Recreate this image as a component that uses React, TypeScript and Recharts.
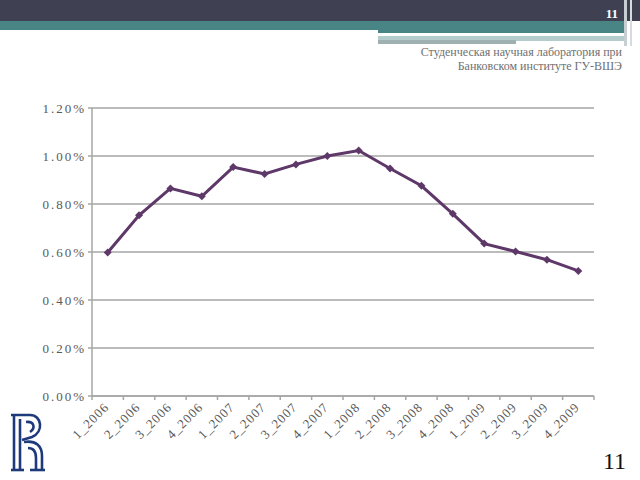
import React from 'react';
import { LineChart, Line, XAxis, YAxis, CartesianGrid } from 'recharts';

const quarters = [
  '1_2006', '2_2006', '3_2006', '4_2006',
  '1_2007', '2_2007', '3_2007', '4_2007',
  '1_2008', '2_2008', '3_2008', '4_2008',
  '1_2009', '2_2009', '3_2009', '4_2009',
];

// percent values
const rates = [
  0.598, 0.753, 0.865, 0.832,
  0.954, 0.925, 0.965, 1.0,
  1.023, 0.948, 0.876, 0.759,
  0.635, 0.602, 0.568, 0.521,
];

const yTicks = [0, 0.2, 0.4, 0.6, 0.8, 1.0, 1.2];

const headerLines = ['Студенческая научная лаборатория при', 'Банковском институте ГУ-ВШЭ'];
const slideNumber = '11';

const data = quarters.map((q, i) => ({ q, rate: rates[i] }));

const lineColor = '#5e3868';
const gridColor = '#a6a6a6';
const textColor = '#595959';
const serif = '"Liberation Serif", "DejaVu Serif", serif';

const Diamond = (props: any) => {
  const { cx, cy } = props;
  if (cx == null || cy == null) return null;
  return (
    <polygon
      points={`${cx},${cy - 4} ${cx + 4},${cy} ${cx},${cy + 4} ${cx - 4},${cy}`}
      fill={lineColor}
    />
  );
};

// category label plus the Excel-style tick mark at the band's left edge
const QuarterTick = (props: any) => {
  const { x, y, payload, index } = props;
  const half = payload.offset ?? 0;
  const isLast = index === quarters.length - 1;
  return (
    <g>
      <line x1={x - half} x2={x - half} y1={y - 6} y2={y - 2} stroke={gridColor} strokeWidth={1.5} />
      {isLast && (
        <line x1={x + half} x2={x + half} y1={y - 6} y2={y - 2} stroke={gridColor} strokeWidth={1.5} />
      )}
      <text
        x={x + 2}
        y={y + 6}
        transform={`rotate(-45, ${x + 2}, ${y + 6})`}
        textAnchor="end"
        fill={textColor}
        fontSize={13}
        letterSpacing={1}
        fontFamily={serif}
      >
        {payload.value}
      </text>
    </g>
  );
};

const Logo = () => (
  <svg width={40} height={62} viewBox="0 0 40 62">
    <g fill="none" stroke="#1f3a7a" strokeWidth={2.6}>
      <path d="M3 3 H22 C34 3 36 20 24 25 L14 28" />
      <path d="M6 3 V58" />
      <path d="M12 7 V58" />
      <path d="M3 58 H16" />
      <path d="M16 30 C28 28 34 34 34 44 V58" />
      <path d="M20 36 C26 36 28 40 28 46 V58" />
      <path d="M22 58 H37" />
      <path d="M18 10 C26 9 28 16 22 20" />
    </g>
  </svg>
);

const App = () => {
  return (
    <div style={{ position: 'absolute', left: 0, top: 0, width: 640, height: 480, background: '#fff', overflow: 'hidden' }}>
      {/* header decoration */}
      <div style={{ position: 'absolute', left: 0, top: 0, width: 640, height: 21, background: '#3f4153' }} />
      <div style={{ position: 'absolute', left: 0, top: 21, width: 378, height: 9, background: '#4a8585' }} />
      <div style={{ position: 'absolute', left: 378, top: 21, width: 246, height: 12, background: '#4a8585' }} />
      <div style={{ position: 'absolute', left: 378, top: 36, width: 246, height: 5, background: '#b5cccc' }} />
      <div style={{ position: 'absolute', left: 378, top: 40, width: 138, height: 4, background: '#9fb0b2' }} />
      <div style={{ position: 'absolute', left: 624, top: 0, width: 3, height: 46, background: '#c8cfd2' }} />
      <div style={{ position: 'absolute', left: 630, top: 0, width: 2, height: 46, background: '#d6dbdd' }} />
      <div style={{ position: 'absolute', left: 590, top: 6, width: 28, textAlign: 'right', color: '#fff', fontFamily: serif, fontWeight: 'bold', fontSize: 13 }}>
        {slideNumber}
      </div>
      <div style={{ position: 'absolute', right: 18, top: 45, textAlign: 'right', color: '#707070', fontFamily: serif, fontSize: 12, lineHeight: '14px' }}>
        {headerLines.map((l) => (
          <div key={l}>{l}</div>
        ))}
      </div>

      <div style={{ position: 'absolute', left: 0, top: 0 }}>
        <LineChart width={640} height={480} data={data} margin={{ top: 108, right: 46, bottom: 24, left: 0 }}>
          <CartesianGrid horizontal vertical={false} stroke={gridColor} strokeWidth={1.5} />
          <XAxis
            dataKey="q"
            scale="band"
            interval={0}
            height={60}
            stroke={gridColor}
            strokeWidth={1.5}
            tickLine={false}
            tickSize={0}
            tickMargin={6}
            tick={<QuarterTick />}
          />
          <YAxis
            domain={[0, 1.2]}
            ticks={yTicks}
            width={92}
            tickSize={4}
            stroke={gridColor}
            strokeWidth={1.5}
            tickFormatter={(v: number) => `${v.toFixed(2)}%`}
            tick={{ fill: textColor, fontSize: 13, fontFamily: serif, letterSpacing: 2 }}
          />
          <Line
            type="linear"
            dataKey="rate"
            stroke={lineColor}
            strokeWidth={3}
            dot={<Diamond />}
            isAnimationActive={false}
          />
        </LineChart>
      </div>

      <div style={{ position: 'absolute', left: 8, top: 412 }}>
        <Logo />
      </div>
      <div style={{ position: 'absolute', left: 596, top: 448, width: 30, textAlign: 'right', color: '#111', fontFamily: serif, fontSize: 24 }}>
        {slideNumber}
      </div>
    </div>
  );
};

export default App;
